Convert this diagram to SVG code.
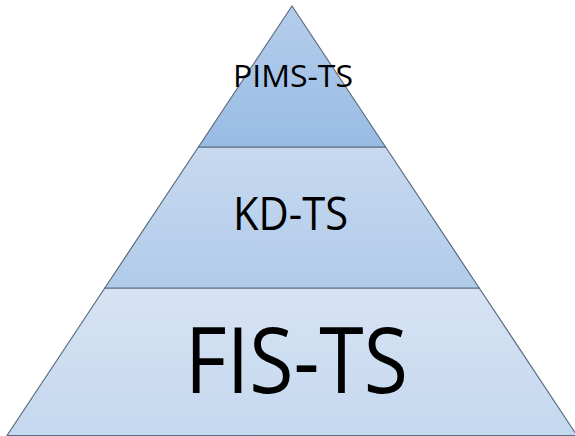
<svg xmlns="http://www.w3.org/2000/svg" width="575" height="436" viewBox="0 0 575 436">
  <style>
    .tier { stroke: #5b6b80; stroke-width: 1.2; stroke-linejoin: round; }
    .lbl { font-family: "Open Sans", "Liberation Sans", sans-serif; fill: #000; text-anchor: middle; }
  </style>
  <defs>
    <linearGradient id="gTop" x1="0" y1="0" x2="0" y2="1">
      <stop offset="0" stop-color="#b6cdeb"/>
      <stop offset="1" stop-color="#98bbe4"/>
    </linearGradient>
    <linearGradient id="gMid" x1="0" y1="0" x2="0" y2="1">
      <stop offset="0" stop-color="#c8d9ef"/>
      <stop offset="1" stop-color="#b0cbea"/>
    </linearGradient>
    <linearGradient id="gBot" x1="0" y1="0" x2="0" y2="1">
      <stop offset="0" stop-color="#d6e3f3"/>
      <stop offset="1" stop-color="#c5d8ef"/>
    </linearGradient>
  </defs>
  <rect width="575" height="436" fill="#ffffff"/>
  <g id="tier-bottom">
    <polygon class="tier" fill="url(#gBot)" points="104.8,288 479.2,288 577,435.5 7,435.5"/>
    <text class="lbl" x="296.5" y="393" font-size="91" textLength="223" lengthAdjust="spacingAndGlyphs">FIS-TS</text>
  </g>
  <g id="tier-middle">
    <polygon class="tier" fill="url(#gMid)" points="198.4,147 385.6,147 479.2,288 104.8,288"/>
    <text class="lbl" x="290.5" y="230" font-size="45" textLength="115" lengthAdjust="spacingAndGlyphs">KD-TS</text>
  </g>
  <g id="tier-top">
    <polygon class="tier" fill="url(#gTop)" points="292,6 385.6,147 198.4,147"/>
    <text class="lbl" x="293" y="87" font-size="31" textLength="120" lengthAdjust="spacingAndGlyphs">PIMS-TS</text>
  </g>
</svg>
